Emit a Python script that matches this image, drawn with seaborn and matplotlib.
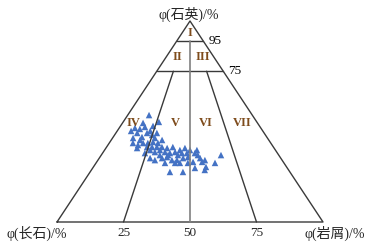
import numpy as np
import pandas as pd
import matplotlib
matplotlib.use("Agg")
import matplotlib.pyplot as plt
import seaborn as sns

sns.set_style("white")
plt.rcParams['font.family'] = ['Liberation Serif', 'Noto Sans CJK SC', 'DejaVu Sans']

# Quartz (Q) and lithic (R) percentages of each sample; feldspar = 100 - Q - R
quartz = [53.2, 49.8, 49.3, 47.8, 45.3, 46.3, 45.3, 44.3, 44.3, 43.3, 41.8, 42.3,
          41.8, 39.3, 38.3, 39.3, 39.3, 39.8, 39.3, 37.3, 37.3, 37.3, 37.3, 36.8,
          36.8, 35.8, 34.8, 35.8, 34.8, 34.3, 34.8, 35.8, 36.8, 34.3, 34.3, 33.3,
          31.8, 30.8, 31.8, 32.3, 30.8, 30.8, 31.8, 32.3, 35.8, 34.3, 33.3, 31.8,
          29.9, 29.9, 30.8, 29.4, 33.3, 24.9, 24.9, 26.9, 25.9, 27.4, 29.4, 29.4,
          29.4, 34.3, 40.8, 44.3, 40.8, 35.8, 37.3, 47.3, 46.8, 33.3, 29.4, 33.3]
lithic = [8.0, 13.4, 7.7, 12.2, 5.2, 8.0, 12.4, 8.0, 11.7, 14.1, 7.7, 10.8,
          15.9, 8.9, 11.3, 12.7, 14.5, 16.2, 18.3, 15.2, 17.1, 18.9, 20.8, 23.0,
          11.7, 17.1, 19.4, 20.8, 23.2, 25.3, 27.0, 28.3, 29.7, 29.8, 31.7, 28.8,
          19.1, 21.4, 23.6, 25.2, 27.8, 29.7, 31.5, 33.1, 34.7, 34.7, 36.3, 37.9,
          36.2, 39.6, 40.2, 44.7, 45.0, 30.0, 34.9, 38.4, 42.6, 42.3, 29.7, 31.5,
          25.9, 15.9, 10.8, 15.4, 19.1, 32.1, 24.9, 9.4, 5.9, 25.1, 34.5, 22.0]

# classification boundaries (quartz %) and base ratio lines (lithic share %)
q_lines = [90, 75]
q_labels = ["95", "75"]
ratio_lines = [25, 50, 75]
base_ticks = ["25", "50", "75"]
zone_names = ["I", "II", "III", "IV", "V", "VI", "VII"]
zone_y = [94.0, 82.0, 82.0, 49.3, 49.3, 49.3, 49.3]
zone_x = [50.0, 45.3, 54.7, 28.6, 44.4, 56.0, 69.5]
axis_names = ["φ(石英)/%", "φ(长石)/%", "φ(岩屑)/%"]

df = pd.DataFrame({"Q": quartz, "R": lithic})
df["x"] = df["R"] + df["Q"] / 2
df["y"] = df["Q"]

fig = plt.figure(figsize=(3.75, 2.52), dpi=100)
ax = fig.add_axes([57/375, 30/252, 266/375, 201/252])
ax.set_xlim(0, 100)
ax.set_ylim(0, 100)
ax.axis("off")

lc = "#3a3a3a"
# outline
ax.plot([0, 100, 50, 0], [0, 0, 100, 0], color=lc, lw=1.0, clip_on=False)
# horizontal quartz lines
for q, lab in zip(q_lines, q_labels):
    ax.plot([q/2, 100 - q/2], [q, q], color=lc, lw=1.0, clip_on=False)
    ax.text(100 - q/2 + 2, q, lab, fontsize=9.5, ha="left", va="center", color="black")
# ratio lines from base toward apex, truncated at 75 (center to 90)
for r in ratio_lines:
    top = 90 if r == 50 else 75
    x1 = r + (50 - r) * top / 100
    ax.plot([r, x1], [0, top], color="#808080" if r == 50 else lc,
            lw=1.2 if r == 50 else 1.0, clip_on=False)
for r, lab in zip(ratio_lines, base_ticks):
    ax.text(r, -5.5, lab, fontsize=9.5, ha="center", va="center")

for name, yy, xx in zip(zone_names, zone_y, zone_x):
    ax.text(xx, yy, name, fontsize=9, ha="center", va="center", color="#7e4c1c",
            fontweight="bold")

sns.scatterplot(data=df, x="x", y="y", marker="^", s=22, color="#4472C4",
                edgecolor="none", ax=ax, legend=False, clip_on=False)

ax.text(49.5, 103.5, axis_names[0], fontsize=10, ha="center", va="center")
ax.text(-7.8, -5.5, axis_names[1], fontsize=10, ha="center", va="center")
ax.text(104.5, -5.5, axis_names[2], fontsize=10, ha="center", va="center")

fig.savefig("out.png", dpi=100, facecolor="white")
